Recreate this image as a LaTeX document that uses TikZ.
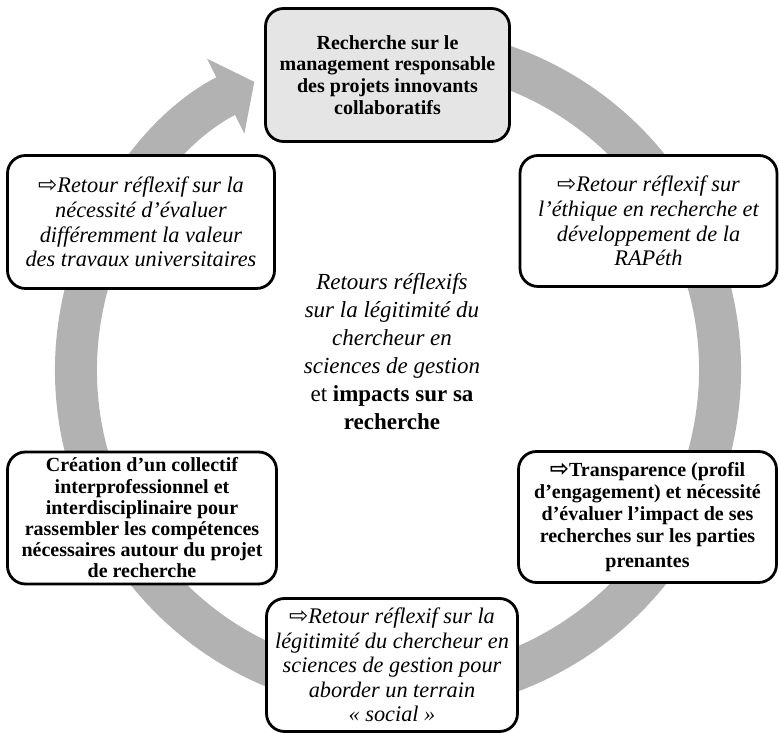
\documentclass[tikz,border=0pt]{standalone}
\usepackage{fontspec}
\setmainfont{Liberation Serif}
\newfontfamily\symbfont{DejaVu Sans}
\usetikzlibrary{arrows.meta}
\newcommand{\fleche}{{\symbfont\fontsize{23}{23}\selectfont ⇨}}

\tikzset{
  etape/.style={draw, line width=2.8pt, rounded corners=18pt, fill=white,
    align=center, inner sep=0pt},
  gras/.style={font=\fontsize{20}{21.8}\selectfont\bfseries},
  italique/.style={font=\fontsize{22.3}{24.6}\selectfont\itshape},
  anneau/.style={line width=42pt, draw=gray!60,
    -{Triangle[width=82pt,length=32pt,fill=gray!60]}}
}

\begin{document}
\begin{tikzpicture}[x=1pt,y=1pt]
	\useasboundingbox (0,0) rectangle (779,733);
	% Draw the ring
	\coordinate (centre) at (398,363);
	\draw[anneau] (centre) ++(80:322) arc[start angle=80, end angle=-243.5, radius=322];
	% Draw the boxes
	\node[etape, gras, fill=gray!20, minimum width=244pt, minimum height=133pt] (recherche) at (387.5,658)
	  {Recherche sur le\\ management responsable\\ des projets innovants\\ collaboratifs};
	\node[etape, italique, minimum width=257pt, minimum height=131pt] (ethique) at (648.5,512)
	  {\fleche Retour réflexif sur\\ l’éthique en recherche et\\ développement de la\\ RAPéth};
	\node[etape, gras, minimum width=258pt, minimum height=131pt] (transparence) at (647.5,216)
	  {\fleche Transparence (profil\\ d’engagement) et nécessité\\ d’évaluer l’impact de ses\\ recherches sur les parties\\[3pt] prenantes};
	\node[etape, italique, minimum width=251pt, minimum height=133pt] (terrain) at (392,68)
	  {\fleche Retour réflexif sur la\\ légitimité du chercheur en\\ sciences de gestion pour\\ aborder un terrain\\ «~social~»};
	\node[etape, gras, font=\fontsize{20}{21.2}\selectfont\bfseries, minimum width=269pt, minimum height=132pt] (collectif) at (142,215)
	  {Création d’un collectif\\ interprofessionnel et\\ interdisciplinaire pour\\ rassembler les compétences\\ nécessaires autour du projet\\ de recherche};
	\node[etape, italique, minimum width=267pt, minimum height=133pt] (valeur) at (141,511)
	  {\fleche Retour réflexif sur la\\ nécessité d’évaluer\\ différemment la valeur\\ des travaux universitaires};
	% Centre text
	\node[align=center, font=\fontsize{23}{28}\selectfont] (legitimite) at (392,381)
	  {\textit{Retours réflexifs}\\ \textit{sur la légitimité du}\\ \textit{chercheur en}\\ \textit{sciences de gestion}\\ et \textbf{impacts sur sa}\\ \textbf{recherche}};
\end{tikzpicture}
\end{document}
